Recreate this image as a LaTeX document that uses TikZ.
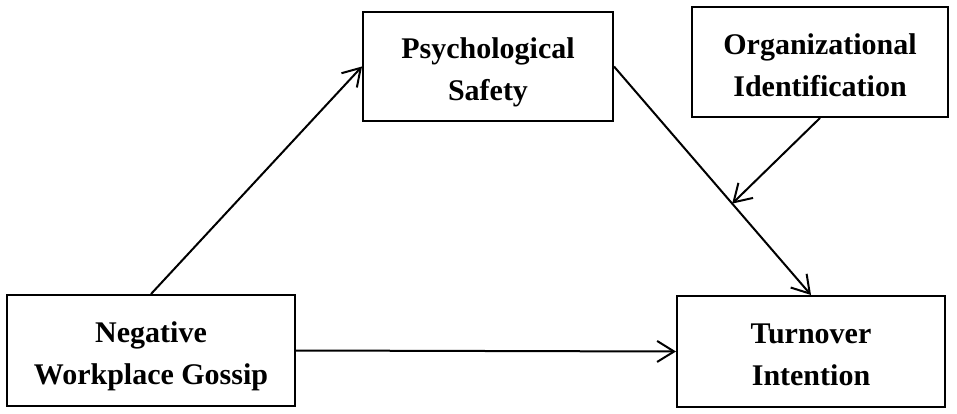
\documentclass[tikz,border=0pt]{standalone}
\usepackage{fontspec}
\setmainfont{Liberation Serif}
\usetikzlibrary{arrows.meta,calc}
\begin{document}
\begin{tikzpicture}[x=1pt,y=-1pt,
  box/.style={draw=black,line width=2pt,inner sep=0pt},
  lbl/.style={align=center,inner sep=0pt,text depth=0pt,yshift=-3pt,
    font=\fontsize{30}{42}\selectfont\bfseries},
  conn/.style={line width=2pt,-{Straight Barb[length=17pt,width=21pt,line width=2pt]}}]
\useasboundingbox (0,0) rectangle (957,414);
\node[box,minimum width=250pt,minimum height=109pt,
  label={[lbl,name=psychT]center:Psychological\\Safety}] (psych) at (488,66.5) {};
\node[box,minimum width=256pt,minimum height=110pt,
  label={[lbl,name=orgT]center:Organizational\\Identification}] (org) at (820,62) {};
\node[box,minimum width=288pt,minimum height=111pt,
  label={[lbl,name=gossipT]center:Negative\\Workplace Gossip}] (gossip) at (151,350.5) {};
\node[box,minimum width=268pt,minimum height=111pt,
  label={[lbl,name=turnT]center:Turnover\\Intention}] (turn) at (811,351.5) {};
\draw[conn] (gossip.north) -- (psych.west);
\draw[conn] (psych.east) -- (turn.north);
\draw[conn] (gossip.east) -- (turn.west);
\coordinate (mid) at ($(psych.east)!0.6!(turn.north)$);
\draw[conn] (org.south) -- (mid);
\end{tikzpicture}
\end{document}
